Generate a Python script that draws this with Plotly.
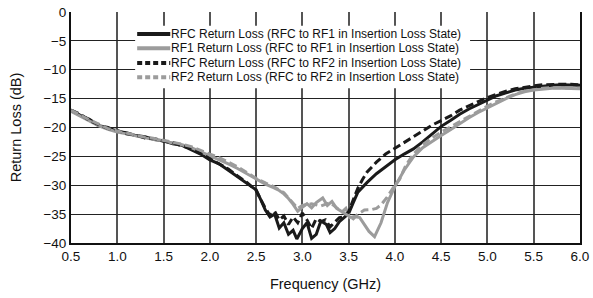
import plotly.graph_objects as go

FONT = "Liberation Sans, Arial, sans-serif"

# --- Data ---
freq_rfc_rf1 = [0.5, 0.6, 0.7, 0.8, 0.9, 1.0, 1.1, 1.2, 1.3, 1.4, 1.5, 1.6, 1.7, 1.8, 1.9, 2.0,
                2.1, 2.2, 2.3, 2.4, 2.5, 2.55, 2.6, 2.65, 2.7, 2.75, 2.8, 2.85, 2.9, 2.94, 3.0,
                3.05, 3.1, 3.15, 3.2, 3.26, 3.3, 3.35, 3.4, 3.45, 3.5, 3.55, 3.6, 3.7, 3.8, 3.9,
                4.0, 4.1, 4.2, 4.3, 4.4, 4.5, 4.6, 4.7, 4.8, 4.9, 5.0, 5.1, 5.2, 5.3, 5.4, 5.5,
                5.6, 5.7, 5.8, 5.9, 6.0]
rl_rfc_rf1 = [-17.0, -17.9, -18.6, -19.7, -20.0, -20.7, -20.9, -21.4, -21.6, -22.1, -22.3, -22.8,
              -23.1, -23.8, -24.6, -25.6, -26.3, -27.4, -28.5, -29.7, -30.8, -32.5, -34.3, -35.5,
              -35.0, -37.4, -36.5, -38.5, -37.8, -39.3, -37.5, -36.5, -39.2, -38.5, -36.2, -36.8,
              -38.2, -37.5, -36.3, -35.6, -34.9, -33.0, -31.2, -29.5, -28.0, -26.8, -25.6, -24.6,
              -23.7, -22.5, -21.2, -19.8, -18.8, -17.7, -16.8, -16.0, -15.2, -14.5, -14.0, -13.5,
              -13.2, -13.0, -12.8, -12.7, -12.6, -12.6, -12.7]

freq_rf1 = [0.5, 0.6, 0.7, 0.8, 0.9, 1.0, 1.1, 1.2, 1.3, 1.4, 1.5, 1.6, 1.7, 1.8, 1.9, 2.0, 2.1,
            2.2, 2.3, 2.4, 2.5, 2.6, 2.7, 2.75, 2.8, 2.85, 2.9, 2.95, 3.0, 3.05, 3.1, 3.15, 3.22,
            3.27, 3.32, 3.37, 3.43, 3.47, 3.51, 3.56, 3.62, 3.67, 3.72, 3.78, 3.85, 3.92, 4.0,
            4.1, 4.2, 4.3, 4.4, 4.5, 4.6, 4.7, 4.8, 4.9, 5.0, 5.1, 5.2, 5.3, 5.4, 5.5, 5.6, 5.7,
            5.8, 5.9, 6.0]
rl_rf1 = [-17.2, -18.0, -18.9, -19.7, -20.3, -20.8, -21.1, -21.5, -21.8, -22.1, -22.3, -22.7,
          -23.0, -23.5, -24.2, -24.8, -25.5, -26.3, -27.1, -28.0, -29.0, -29.8, -30.5, -30.9,
          -31.5, -32.3, -33.3, -34.5, -33.8, -33.2, -33.9, -33.0, -32.2, -33.5, -32.8, -34.0,
          -34.6, -34.0, -35.6, -35.4, -35.6, -36.8, -38.0, -38.9, -36.5, -33.0, -30.2, -27.4,
          -25.1, -23.5, -22.4, -21.4, -20.4, -19.3, -18.3, -17.4, -16.6, -15.7, -15.0, -14.3,
          -13.8, -13.5, -13.3, -13.2, -13.2, -13.2, -13.3]

freq_rfc_rf2 = [0.5, 0.6, 0.7, 0.8, 0.9, 1.0, 1.1, 1.2, 1.3, 1.4, 1.5, 1.6, 1.7, 1.8, 1.9, 2.0,
                2.1, 2.2, 2.3, 2.4, 2.5, 2.6, 2.65, 2.7, 2.75, 2.8, 2.85, 2.9, 2.95, 3.0, 3.05,
                3.1, 3.15, 3.2, 3.25, 3.3, 3.35, 3.4, 3.45, 3.5, 3.55, 3.6, 3.65, 3.7, 3.8, 3.9,
                4.0, 4.1, 4.2, 4.3, 4.4, 4.5, 4.6, 4.7, 4.8, 4.9, 5.0, 5.1, 5.2, 5.3, 5.4, 5.5,
                5.6, 5.7, 5.8, 5.9, 6.0]
rl_rfc_rf2 = [-17.0, -17.7, -18.8, -19.5, -20.2, -20.5, -21.1, -21.3, -21.8, -21.9, -22.4, -22.6,
              -23.2, -23.6, -24.5, -25.4, -26.2, -27.2, -28.4, -29.5, -30.9, -34.0, -35.2, -34.5,
              -36.0, -35.3, -36.8, -35.5, -36.5, -34.8, -36.0, -37.5, -35.8, -36.3, -36.0, -37.2,
              -36.4, -35.6, -35.5, -34.6, -32.5, -30.5, -29.0, -27.7, -26.0, -24.6, -23.6, -22.6,
              -21.6, -20.6, -19.6, -18.8, -18.0, -17.0, -16.2, -15.5, -14.8, -14.2, -13.7, -13.3,
              -13.0, -12.8, -12.6, -12.5, -12.5, -12.5, -12.6]

freq_rf2 = [0.5, 0.6, 0.7, 0.8, 0.9, 1.0, 1.1, 1.2, 1.3, 1.4, 1.5, 1.6, 1.7, 1.8, 1.9, 2.0, 2.1,
            2.2, 2.3, 2.4, 2.5, 2.6, 2.7, 2.8, 2.9, 2.95, 3.0, 3.1, 3.2, 3.3, 3.4, 3.5, 3.55, 3.6,
            3.67, 3.75, 3.8, 3.85, 3.91, 4.0, 4.05, 4.12, 4.2, 4.3, 4.4, 4.5, 4.6, 4.7, 4.8, 4.9,
            5.0, 5.1, 5.2, 5.3, 5.4, 5.5, 5.6, 5.7, 5.8, 5.9, 6.0]
rl_rf2 = [-17.0, -17.9, -18.7, -19.4, -20.2, -20.6, -21.0, -21.3, -21.7, -21.9, -22.2, -22.5,
          -22.9, -23.3, -24.0, -24.6, -25.2, -26.0, -26.8, -27.8, -28.8, -29.6, -30.3, -31.3,
          -33.0, -34.0, -33.5, -33.2, -33.6, -33.0, -34.3, -35.3, -35.8, -35.0, -34.3, -34.2,
          -34.0, -33.4, -32.2, -30.0, -29.0, -26.5, -24.6, -23.0, -21.8, -20.8, -19.9, -18.9,
          -18.0, -17.1, -16.3, -15.5, -14.8, -14.2, -13.7, -13.4, -13.2, -13.1, -13.1, -13.1,
          -13.2]

series_names = [
    "RFC Return Loss (RFC to RF1 in Insertion Loss State)",
    "RF1 Return Loss (RFC to RF1 in Insertion Loss State)",
    "RFC Return Loss (RFC to RF2 in Insertion Loss State)",
    "RF2 Return Loss (RFC to RF2 in Insertion Loss State)",
]

x_ticks = [0.5, 1.0, 1.5, 2.0, 2.5, 3.0, 3.5, 4.0, 4.5, 5.0, 5.5, 6.0]
x_tick_labels = ["0.5", "1.0", "1.5", "2.0", "2.5", "3.0", "3.5", "4.0", "4.5", "5.0", "5.5", "6.0"]
y_ticks = [0, -5, -10, -15, -20, -25, -30, -35, -40]

BLACK = "#1a1a1a"
GRAY = "#9c9c9c"
DASH = "8px,4px"

styles = [
    dict(color=BLACK, width=3),
    dict(color=GRAY, width=3),
    dict(color=BLACK, width=3, dash=DASH),
    dict(color=GRAY, width=3, dash=DASH),
]
series_x = [freq_rfc_rf1, freq_rf1, freq_rfc_rf2, freq_rf2]
series_y = [rl_rfc_rf1, rl_rf1, rl_rfc_rf2, rl_rf2]

fig = go.Figure()
for name, xs, ys, st in zip(series_names, series_x, series_y, styles):
    fig.add_trace(go.Scatter(x=xs, y=ys, mode="lines", name=name, line=st, showlegend=False))

# Compact legend drawn in paper coordinates (plot area), white box over the grid
shapes = [dict(type="rect", xref="paper", yref="paper", x0=0.126, x1=0.784, y0=0.67, y1=0.94,
               fillcolor="white", line=dict(width=0), layer="above")]
annotations = []
legend_rows_y = [0.905, 0.843, 0.779, 0.718]
for name, st, ly in zip(series_names, styles, legend_rows_y):
    sample = dict(color=st["color"], width=4)
    if "dash" in st:
        sample["dash"] = "5px,3px"
    shapes.append(dict(type="line", xref="paper", yref="paper", x0=0.130, x1=0.195, y0=ly, y1=ly,
                       line=sample, layer="above"))
    annotations.append(dict(xref="paper", yref="paper", x=0.193, y=ly, text=name, showarrow=False,
                            xanchor="left", yanchor="middle",
                            font=dict(family=FONT, size=12, color="#111")))

fig.update_layout(
    width=593, height=298,
    margin=dict(l=71, r=13, t=12, b=55),
    paper_bgcolor="white", plot_bgcolor="white",
    font=dict(family=FONT, size=13, color="#111"),
    showlegend=False,
    shapes=shapes,
    annotations=annotations,
    xaxis=dict(range=[0.5, 6.0], tickmode="array", tickvals=x_ticks, ticktext=x_tick_labels,
               showgrid=True, gridcolor="#555", gridwidth=1.5,
               showline=True, linecolor="#111", linewidth=2, mirror=False,
               ticks="", zeroline=False, automargin=False,
               title=dict(text="Frequency (GHz)", font=dict(family=FONT, size=14.5), standoff=16),
               tickfont=dict(family=FONT, size=13.5)),
    yaxis=dict(range=[-40, 0], tickmode="array", tickvals=y_ticks,
               showgrid=True, gridcolor="#222", gridwidth=1.2,
               showline=True, linecolor="#111", linewidth=2, mirror=True,
               ticks="", zeroline=False, automargin=False,
               title=dict(text="Return Loss (dB)", font=dict(family=FONT, size=14.5), standoff=18),
               tickfont=dict(family=FONT, size=13.5)),
)

# Remove the browser's default 8px body margin so the figure sits at the page origin.
fig.write_html("out.html", config={"displayModeBar": False},
               post_script="document.body.style.margin='0';")
